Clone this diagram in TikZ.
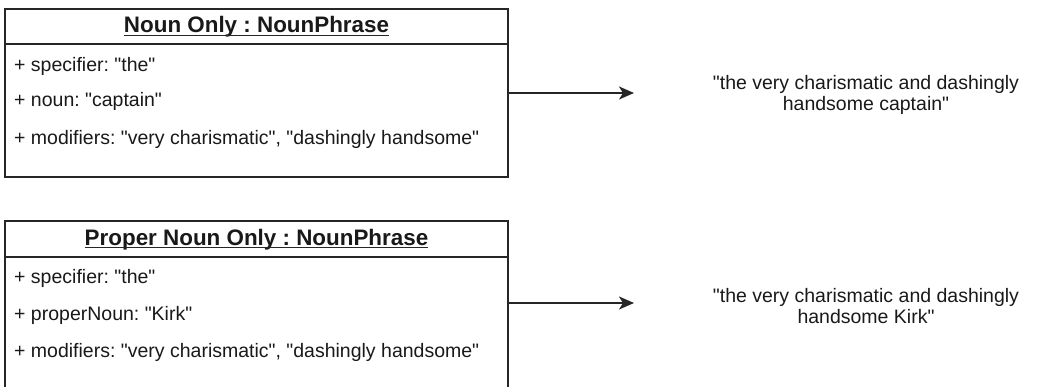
\documentclass[tikz,border=0pt]{standalone}
\usepackage{fontspec}
\setmainfont{Liberation Sans}[Ligatures=TeXOff]
\usetikzlibrary{arrows.meta}
\frenchspacing

\begin{document}
\begin{tikzpicture}[x=1pt, y=-1pt,
  umlbox/.style={draw=black!85, line width=1.7pt, fill=white, inner sep=0pt},
  headline/.style={draw=black!85, line width=1.7pt},
  objtitle/.style={font=\fontsize{22.4}{26}\selectfont\bfseries, text=black!90, inner sep=0pt},
  titleline/.style={draw=black!85, line width=1.1pt},
  attr/.style={font=\fontsize{19.5}{23}\selectfont, text=black!90, anchor=west, inner sep=0pt},
  result/.style={font=\fontsize{19.5}{21.5}\selectfont, text=black!90, align=center, inner sep=0pt},
  flow/.style={draw=black!85, line width=1.7pt, -{Stealth[length=15pt, width=13pt, inset=4pt]}}
]
\useasboundingbox (0,0) rectangle (1042,386);

% first object: noun only
\node[umlbox, minimum width=503pt, minimum height=168pt] (nounobj) at (256.5,93) {};
\draw[headline] ([yshift=-36pt]nounobj.north west) -- ([yshift=-36pt]nounobj.north east);
\node[objtitle] (nountitle) at (256.5,27) {Noun Only : NounPhrase};
\draw[titleline] ([yshift=-2.5pt]nountitle.base west) -- ([yshift=-2.5pt]nountitle.base east);
\node[attr] (nspec) at (14,66) {+ specifier: "the"};
\node[attr] (nnoun) at (14,101) {+ noun: "captain"};
\node[attr] (nmod) at (14,139) {+ modifiers: "very charismatic", "dashingly handsome"};

\node[result] (nounout) at (866,95) {"the very charismatic and dashingly\\handsome captain"};
\coordinate (nountip) at (634,93);
\draw[flow] (nounobj.east) -- (nountip);

% second object: proper noun only
\node[umlbox, minimum width=503pt, minimum height=168pt] (propobj) at (256.5,305) {};
\draw[headline] ([yshift=-37pt]propobj.north west) -- ([yshift=-37pt]propobj.north east);
\node[objtitle] (proptitle) at (256.5,239.5) {Proper Noun Only : NounPhrase};
\draw[titleline] ([yshift=-2.5pt]proptitle.base west) -- ([yshift=-2.5pt]proptitle.base east);
\node[attr] (pspec) at (14,278) {+ specifier: "the"};
\node[attr] (pnoun) at (14,315) {+ properNoun: "Kirk"};
\node[attr] (pmod) at (14,352) {+ modifiers: "very charismatic", "dashingly handsome"};

\node[result] (propout) at (866,306) {"the very charismatic and dashingly\\handsome Kirk"};
\coordinate (proptip) at (634,303);
\draw[flow] (proptip -| propobj.east) -- (proptip);
\end{tikzpicture}
\end{document}
